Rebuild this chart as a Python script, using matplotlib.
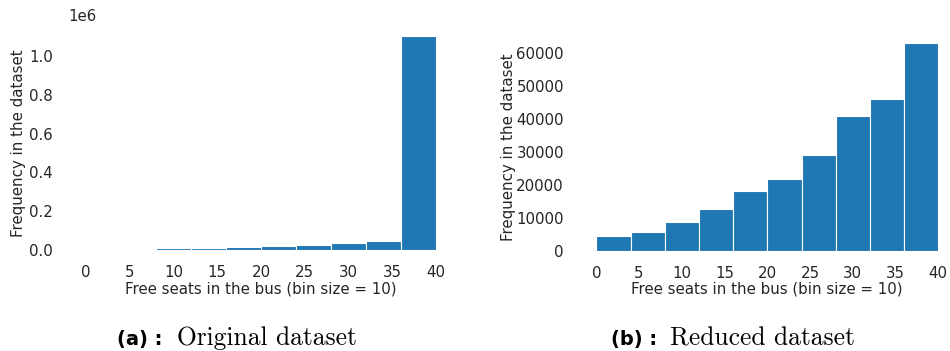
import numpy as np
import matplotlib
matplotlib.use("Agg")
import matplotlib.pyplot as plt
import seaborn as sns

# bins: 10 bins between 0 and 40 free seats
bin_edges = np.linspace(0, 40, 11)
bin_left = bin_edges[:-1]

# frequencies
original_counts = [2000, 5500, 8000, 11500, 16000, 20000, 27000, 38000, 48000, 1103000]
reduced_counts = [4550, 5800, 8900, 12750, 18300, 21850, 29050, 40950, 46050, 63250]

x_label = "Free seats in the bus (bin size = 10)"
y_label = "Frequency in the dataset"
captions = [("(a) :", "Original dataset"), ("(b) :", "Reduced dataset")]

sns.set_style("white")
plt.rcParams["font.family"] = ["DejaVu Sans"]

fig = plt.figure(figsize=(9.5, 3.51), dpi=100)
W, H = 950, 351

def px_axes(left, top, right, bottom):
    return fig.add_axes([left / W, 1 - bottom / H, (right - left) / W, (bottom - top) / H])

ax_a = px_axes(68.5, 25.3, 453.5, 260.7)
ax_b = px_axes(579.2, 32.2, 955.4, 261.4)

for ax, counts, lpad in [(ax_a, original_counts, 2.5), (ax_b, reduced_counts, 0)]:
    _, _, patches = ax.hist(bin_left, bins=bin_edges, weights=counts, color="#1f77b4",
                            edgecolor="white", linewidth=0.8)
    # let the y axis get the usual margin below zero
    for p in patches:
        p.sticky_edges.y.clear()
    ax.autoscale_view()
    for s in ax.spines.values():
        s.set_visible(False)
    ax.set_xticks(np.arange(0, 41, 5))
    ax.tick_params(labelsize=10.8, colors="#262626", length=0)
    ax.tick_params(axis="x", pad=3)
    ax.tick_params(axis="y", pad=11)
    ax.set_xlabel(x_label, fontsize=10.8, color="#262626", labelpad=1)
    ax.set_ylabel(y_label, fontsize=10.8, color="#262626", labelpad=lpad)

ax_a.yaxis.get_offset_text().set_fontsize(10.8)
ax_a.yaxis.get_offset_text().set_color("#262626")

# captions under each panel
cap_pos = [(162, 177), (657, 670)]
for (bold, rest), (xb, xr) in zip(captions, cap_pos):
    fig.text(xb / W, 6 / H, bold, ha="right", va="baseline", fontsize=14,
             fontweight="bold", family="DejaVu Sans", color="black")
    fig.text(xr / W, 6 / H, rest, ha="left", va="baseline", fontsize=18.4,
             family="cmr10", color="black")

fig.savefig("out.png", dpi=100)
